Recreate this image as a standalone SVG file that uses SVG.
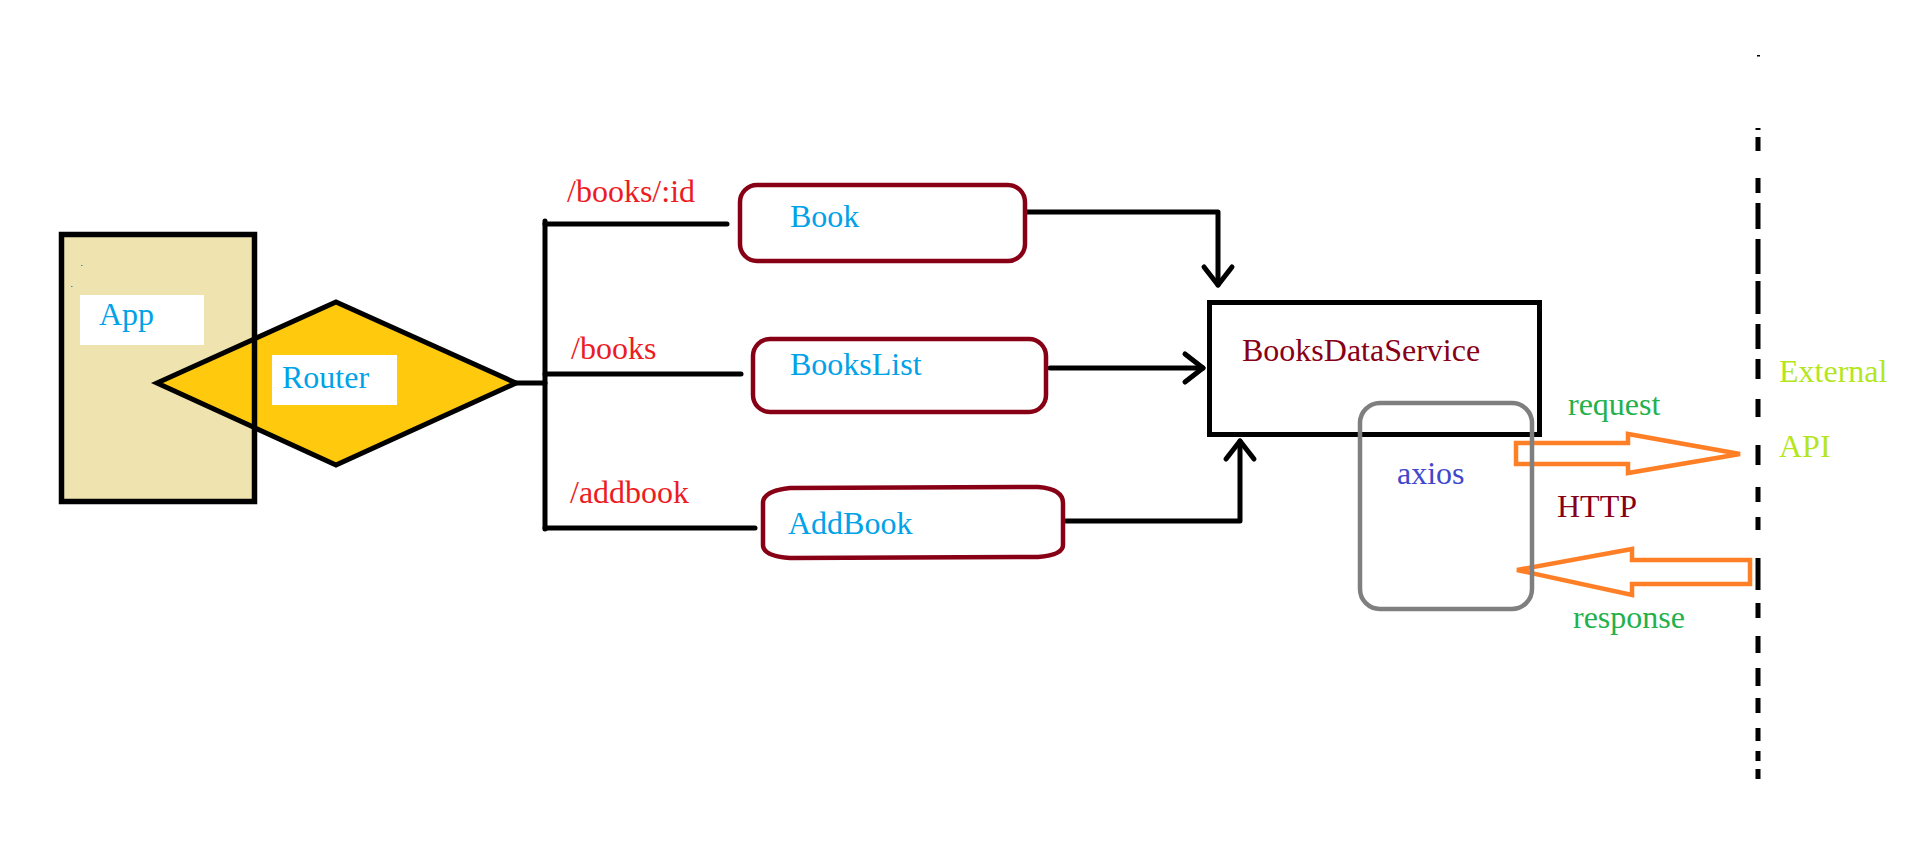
<svg xmlns="http://www.w3.org/2000/svg" width="1907" height="863" viewBox="0 0 1907 863">
<style>
text{font-family:"Liberation Serif","Times New Roman",serif;font-size:32px}
.blue{fill:#00A2E8}.red{fill:#ED1C24}.dred{fill:#880015}.green{fill:#22B14C}.lime{fill:#B5E61D}.indigo{fill:#3F48CC}
.ln{fill:none;stroke:#000;stroke-width:5;stroke-linecap:round;stroke-linejoin:round}
.comp{fill:#fff;stroke:#880015;stroke-width:4.5}
.orange{fill:none;stroke:#FF7F27;stroke-width:4.5;stroke-linejoin:miter}
</style>
<defs>
<marker id="chev" markerUnits="userSpaceOnUse" markerWidth="40" markerHeight="40" viewBox="-25 -20 30 40" refX="0" refY="0" orient="auto">
<path d="M-18,-14 L0,0 L-18,14" fill="none" stroke="#000" stroke-width="5" stroke-linecap="round" stroke-linejoin="round"/>
</marker>
</defs>
<rect width="1907" height="863" fill="#fff"/>
<g id="app">
<rect x="61.5" y="234.5" width="193" height="267" fill="#EFE4B0"/>
</g>
<g id="router">
<polygon points="157,383 336,302 516,383 336,465" fill="#FFC90E" stroke="#000" stroke-width="5" stroke-linejoin="miter"/>
</g>
<g id="app-frame">
<rect x="61.5" y="234.5" width="193" height="267" fill="none" stroke="#000" stroke-width="5.5"/>
<rect x="81" y="265" width="1.5" height="1" fill="#00A2E8"/>
<rect x="71" y="286" width="1.5" height="1" fill="#00A2E8"/>
<rect x="80" y="295" width="124" height="50" fill="#fff"/>
<text x="99" y="325" class="blue">App</text>
</g>
<g id="router-label">
<rect x="272" y="355" width="125" height="50" fill="#fff"/>
<text x="282" y="388" class="blue">Router</text>
</g>
<g id="connectors">
<polyline class="ln" points="516,383 545,383"/>
<polyline class="ln" points="545,221 545,529"/>
<polyline class="ln" points="545,224 727,224"/>
<polyline class="ln" points="545,374 741,374"/>
<polyline class="ln" points="545,528 755,528"/>
<text x="567" y="202" class="red">/books/:id</text>
<text x="571" y="359" class="red">/books</text>
<text x="570" y="503" class="red">/addbook</text>
<polyline class="ln" points="1027,212 1218,212 1218,285" marker-end="url(#chev)"/>
<polyline class="ln" points="1050,368 1203,368" marker-end="url(#chev)"/>
<polyline class="ln" points="1066,521 1240,521 1240,441" marker-end="url(#chev)"/>
<polygon class="orange" points="1516,443 1628,443 1628,434 1740,454 1628,473 1628,464 1516,464"/>
<polygon class="orange" points="1517,570 1632,549 1632,560 1750,560 1750,584 1632,584 1632,595"/>
<text x="1568" y="415" class="green">request</text>
<text x="1557" y="517" class="dred">HTTP</text>
<text x="1573" y="628" class="green">response</text>
</g>
<g id="book">
<rect x="740" y="185" width="285" height="76" rx="17" class="comp"/>
<text x="790" y="227" class="blue">Book</text>
</g>
<g id="bookslist">
<rect x="753" y="339" width="293" height="73" rx="17" class="comp"/>
<text x="790" y="375" class="blue">BooksList</text>
</g>
<g id="addbook">
<path d="M763,503 Q763,491 790,488 L1038,487 Q1063,489 1063,503 L1063,545 Q1063,555 1038,557 L790,558 Q763,556 763,545 Z" class="comp"/>
<text x="788" y="534" class="blue">AddBook</text>
</g>
<g id="booksdataservice">
<rect x="1209.5" y="302.5" width="330" height="132" fill="#fff" stroke="#000" stroke-width="5"/>
<text x="1242" y="361" class="dred">BooksDataService</text>
</g>
<g id="axios">
<rect x="1360" y="403" width="172" height="206" rx="20" fill="none" stroke="#7F7F7F" stroke-width="4.5"/>
<text x="1397" y="484" class="indigo">axios</text>
</g>
<g id="external-api">
<rect x="1757" y="55" width="3" height="1.5" fill="#000"/>
<path d="M1758,128V130 M1758,137V151 M1758,178V193 M1758,203V229 M1758,239V274 M1758,281V314 M1758,324V349 M1758,359V379 M1758,399V417 M1758,445V465 M1758,487V502 M1758,517V530 M1758,558V590 M1758,603V618 M1758,636V653 M1758,668V686 M1758,698V713 M1758,728V741 M1758,751V761 M1758,769V779" fill="none" stroke="#000" stroke-width="5"/>
<text x="1779" y="382" class="lime">External</text>
<text x="1779" y="457" class="lime">API</text>
</g>
</svg>
